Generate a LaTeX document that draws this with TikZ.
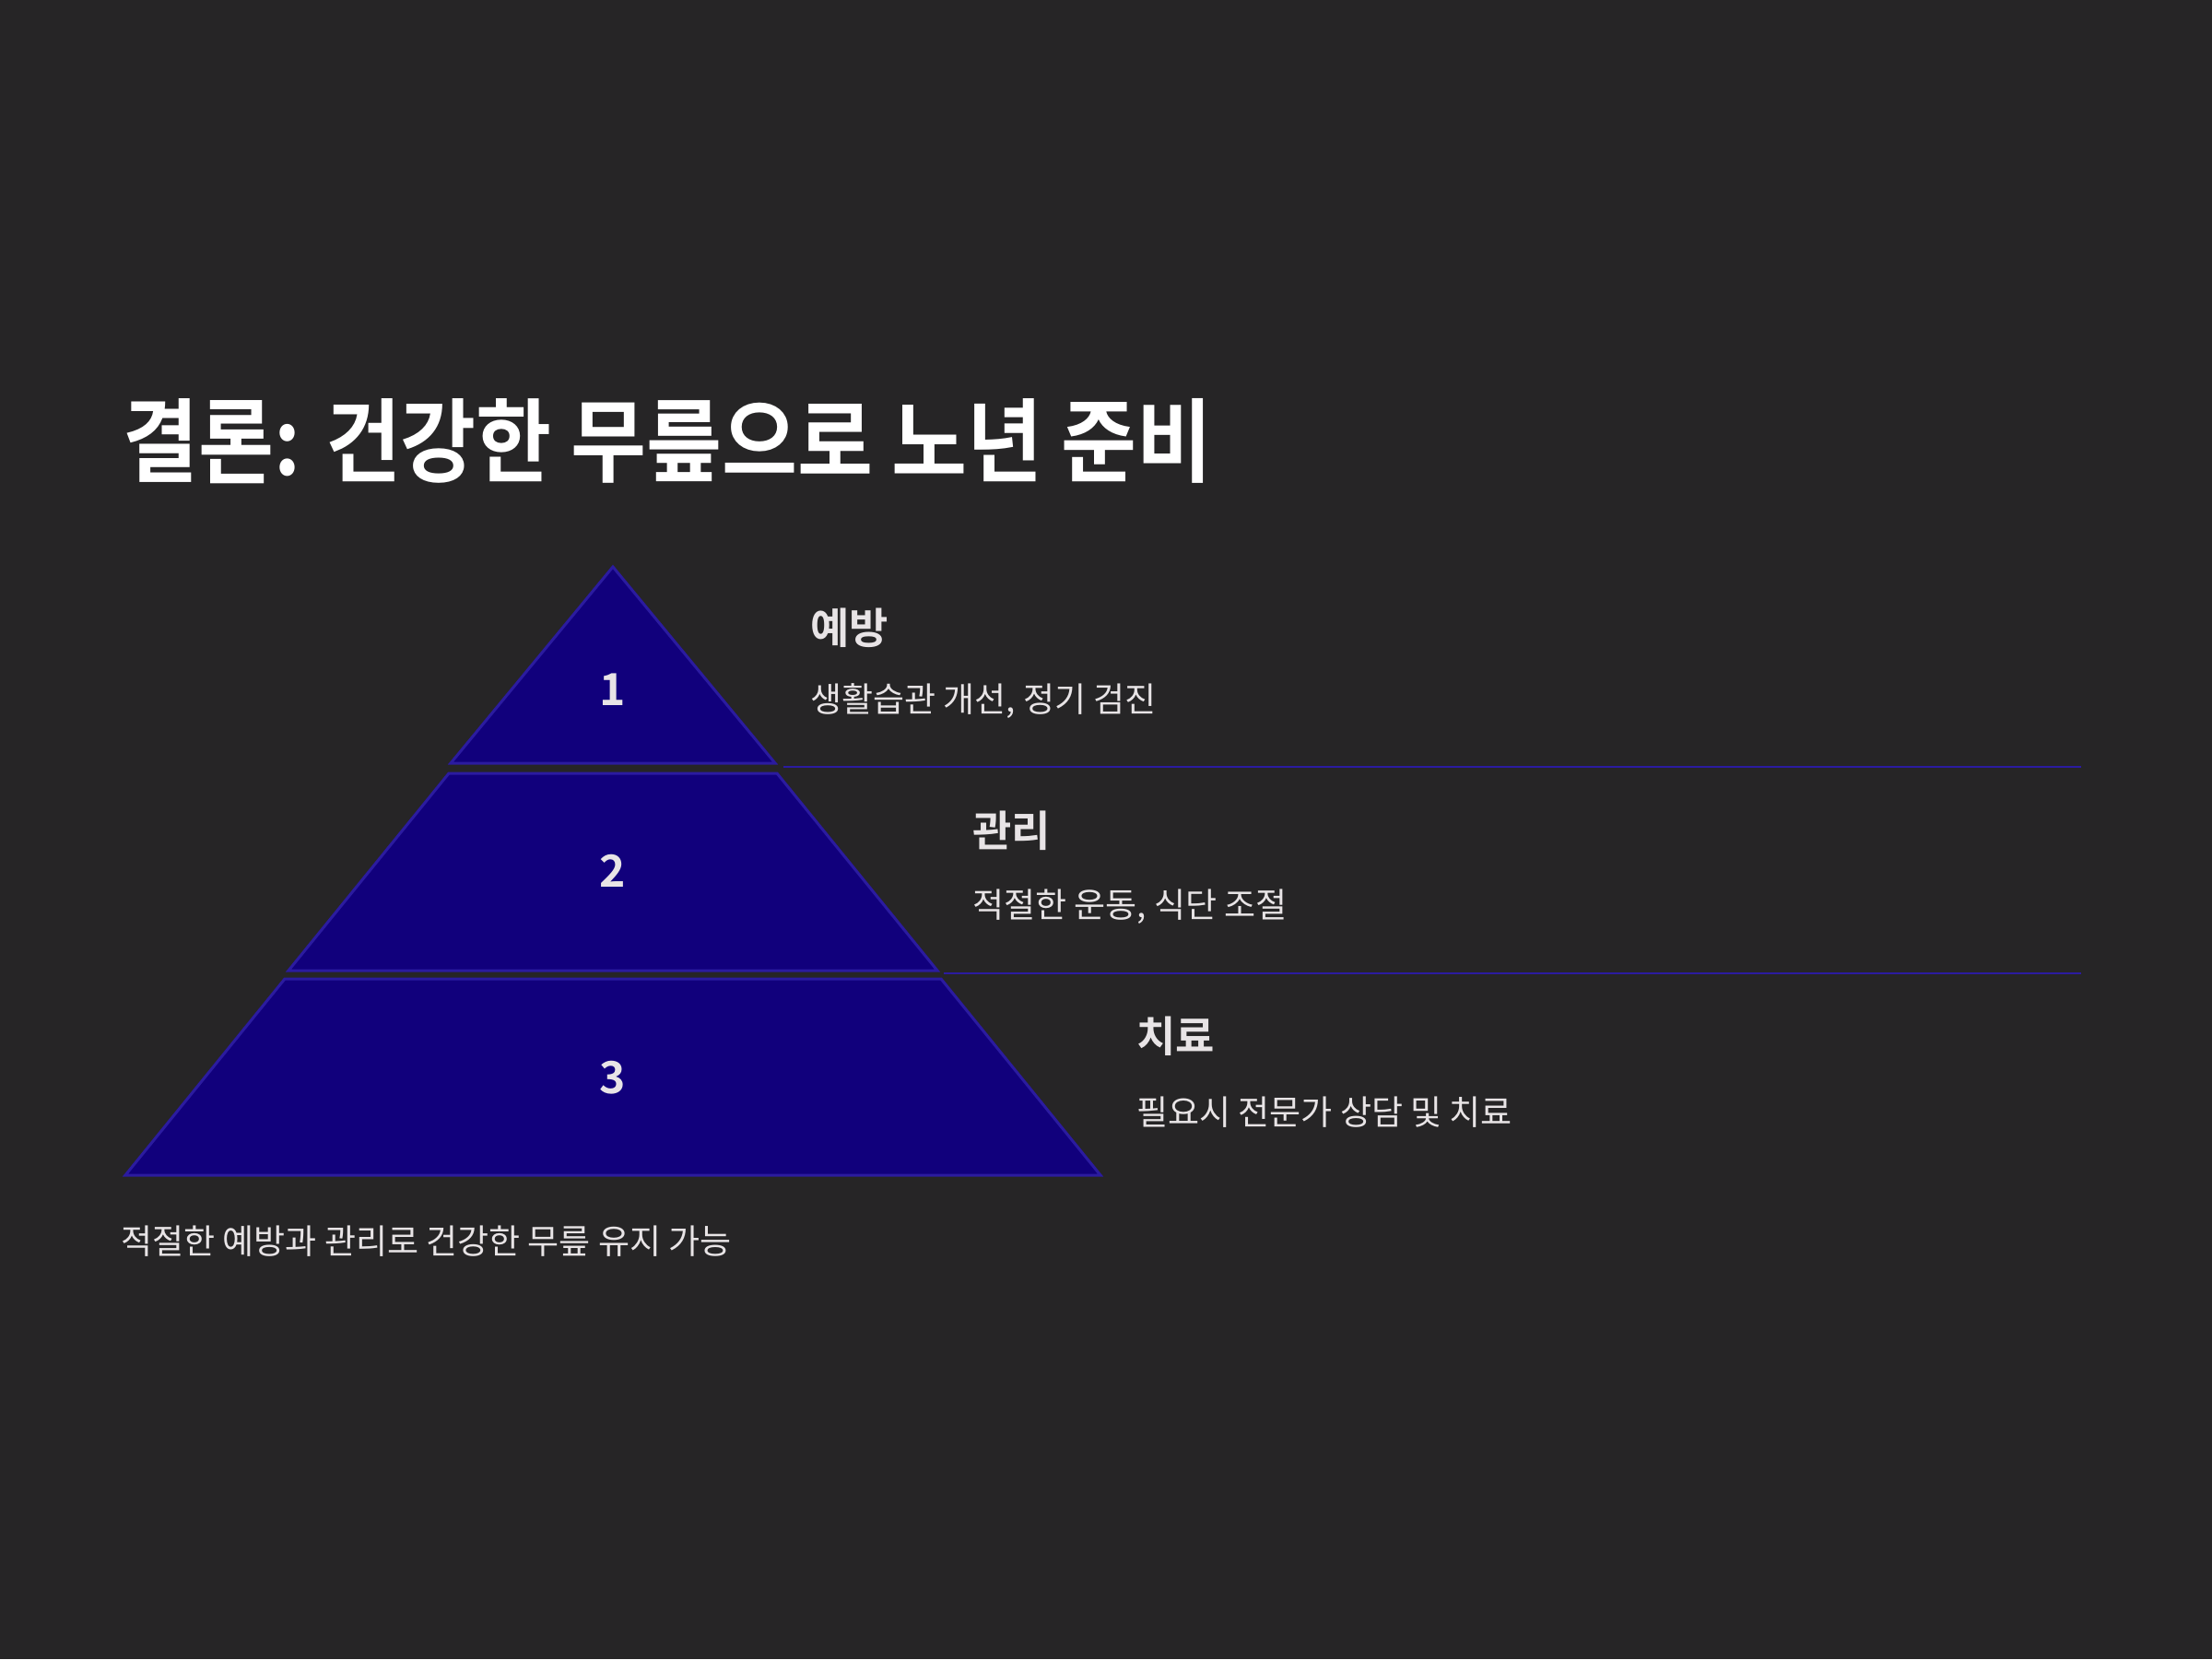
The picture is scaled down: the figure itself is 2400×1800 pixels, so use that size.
\documentclass[tikz,border=0pt]{standalone}
\usepackage{fontspec}
\newfontfamily\krreg{Noto Sans CJK KR}
\newfontfamily\krbold{Noto Sans CJK KR Bold}
\newfontfamily\krtitle[FakeStretch=0.9]{Noto Sans CJK KR Bold}
\definecolor{bg}{HTML}{262526}
\definecolor{tierfill}{HTML}{11007C}
\definecolor{tierline}{HTML}{2B1BA0}
\definecolor{txt}{HTML}{E8E4E6}
\begin{document}
\begin{tikzpicture}[x=1pt,y=-1pt,
  tier/.style={fill=tierfill,draw=tierline,line width=3pt,line join=miter},
  sep/.style={draw=tierline,line width=2.5pt},
  num/.style={text=txt,inner sep=0pt,font=\krbold\fontsize{48}{52}\selectfont},
  head/.style={text=txt,inner sep=0pt,anchor=west,font=\krbold\fontsize{46}{52}\selectfont},
  sub/.style={text=txt,inner sep=0pt,anchor=west,font=\krreg\fontsize{37}{42}\selectfont}]
\fill[bg] (0,0) rectangle (2400,1800);
\useasboundingbox (0,0) rectangle (2400,1800);
% title
\node[text=white,inner sep=0pt,anchor=west,font=\krtitle\fontsize{99}{104}\selectfont] (title) at (133,479) {결론: 건강한 무릎으로 노년 준비};
% tiers
\draw[tier] (665,615) -- (841,828) -- (489,828) -- cycle;
\draw[tier] (487,839) -- (843,839) -- (1017,1053) -- (313,1053) -- cycle;
\draw[tier] (309,1062) -- (1021,1062) -- (1194,1275) -- (136,1275) -- cycle;
\node[num] (n1) at (665,748) {1};
\node[num] (n2) at (665,945) {2};
\node[num] (n3) at (665,1169) {3};
% separators
\coordinate (s1a) at (850,832); \coordinate (s1b) at (2258,832);
\coordinate (s2a) at (1024,1056); \coordinate (s2b) at (2258,1056);
\draw[sep] (s1a) -- (s1b);
\draw[sep] (s2a) -- (s2b);
% labels
\node[head] (h1) at (879,681) {예방};
\node[sub] (d1) at (879,761) {생활습관 개선, 정기 검진};
\node[head] (h2) at (1055,901) {관리};
\node[sub] (d2) at (1055,984) {적절한 운동, 식단 조절};
\node[head] (h3) at (1233,1124) {치료};
\node[sub] (d3) at (1233,1207) {필요시 전문가 상담 및 치료};
% footer
\node[sub] (foot) at (131,1347) {적절한 예방과 관리로 건강한 무릎 유지 가능};
\end{tikzpicture}
\end{document}
